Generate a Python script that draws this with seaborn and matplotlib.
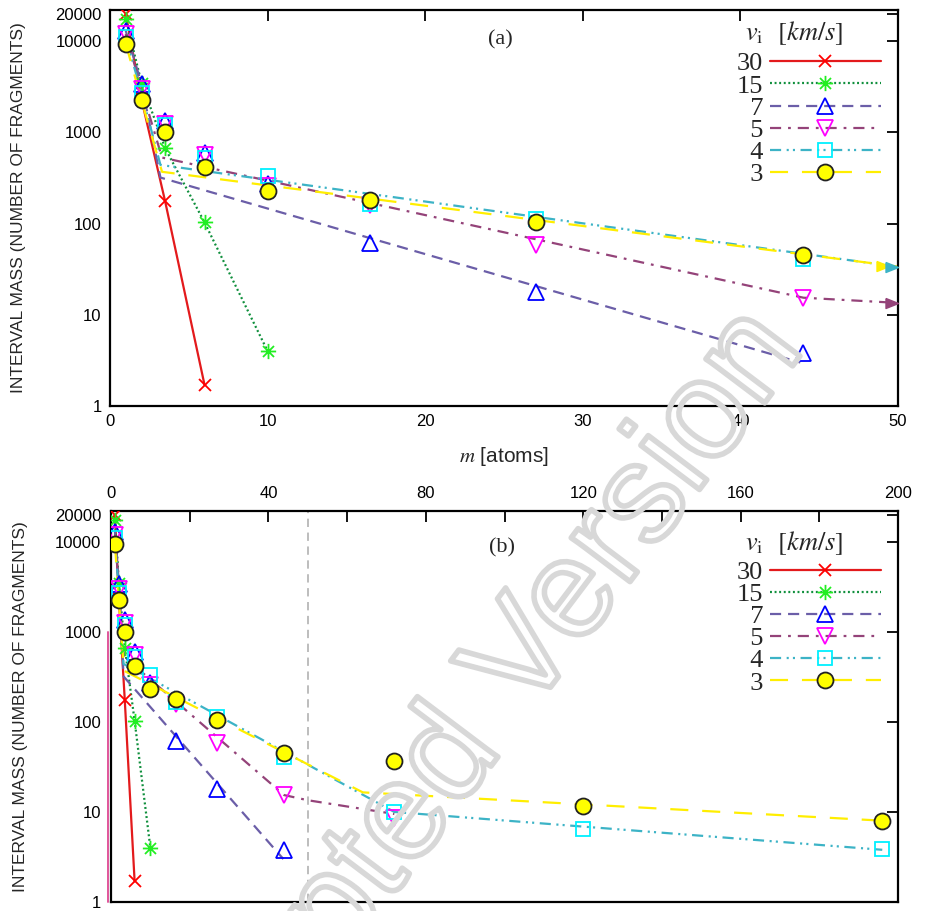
import numpy as np
import matplotlib
matplotlib.use("Agg")
import matplotlib.pyplot as plt
import matplotlib.patheffects as pe
import matplotlib.ticker as mticker
import matplotlib.transforms as mtrans
from matplotlib.lines import Line2D
from matplotlib.path import Path
import seaborn as sns

# ---- data --------------------------------------------------------------
speeds = ["30", "15", "7", "5", "4", "3"]

# histogram points (markers): bin centre m, interval mass
m30 = [1, 2, 3.5, 6]
v30 = [20000, 2300, 175, 1.7]
m15 = [1, 2, 3.5, 6, 10]
v15 = [17500, 3500, 670, 103, 4.0]
m7 = [1, 2, 3.5, 6, 10, 16.5, 27, 44]
v7 = [13000, 3400, 1350, 600, 270, 61, 18, 3.8]
m5 = [1, 2, 3.5, 6, 10, 16.5, 27, 44, 72]
v5 = [12000, 3000, 1250, 560, 260, 160, 59, 15.4, 8.5]
m4 = [1, 2, 3.5, 6, 10, 16.5, 27, 44, 72, 120, 196]
v4 = [11000, 2700, 1200, 520, 330, 165, 112, 41, 10, 6.5, 3.9]
m3 = [1, 2, 3.5, 6, 10, 16.5, 27, 44, 72, 120, 196]
v3 = [9400, 2250, 1000, 415, 230, 180, 104, 45, 37, 11.7, 8.0]

# fitted curves (lines)
lm30 = [1, 2, 3.5, 6]
lv30 = [20000, 2300, 175, 1.7]
lm15 = [1, 2, 3.5, 6, 10]
lv15 = [17500, 3500, 670, 103, 4.0]
lm7 = [1, 2, 3.2, 43.8]
lv7 = [13000, 3400, 320, 3.0]
lm5 = [1, 2, 3.3, 44, 50, 72]
lv5 = [12000, 3000, 530, 15.4, 13.5, 9.5]
lm4 = [1, 2, 3.2, 72, 196]
lv4 = [11000, 2700, 440, 10, 3.8]
lm3 = [1, 2, 3.3, 64, 196]
lv3 = [9400, 2250, 370, 16.5, 8.0]

# stray magenta stroke left of panel (b)
stray_m = [-0.8, -0.8]
stray_v = [1, 1000]

yticks = [1, 10, 100, 1000, 10000, 20000]

# ---- style ---------------------------------------------------------------
sns.set_theme(style="white")
plt.rcParams["font.family"] = ["Liberation Sans", "DejaVu Sans"]
plt.rcParams["mathtext.fontset"] = "stix"
plt.rcParams["lines.scale_dashes"] = False

# gnuplot style asterisk (+ and x overlaid)
M, L = Path.MOVETO, Path.LINETO
asterisk = Path([(-1, 0), (1, 0), (0, -1), (0, 1),
                 (-0.72, -0.72), (0.72, 0.72), (-0.72, 0.72), (0.72, -0.72)],
                [M, L, M, L, M, L, M, L])
arrow_marker = Path([(-2.0, 0.8), (0.0, 0.0), (-2.0, -0.8), (-2.0, 0.8)])

series = [
    # marker data, line data, line colour, line style, marker, marker face, marker edge, ms
    (m30, v30, lm30, lv30, "#e31a1c", "-", "x", "#ff0000", "#ff0000", 9),
    (m15, v15, lm15, lv15, "#0f8f3c", (0, (1.4, 1.9)), asterisk, "none", "#22ee22", 11),
    (m7, v7, lm7, lv7, "#6b5ea8", (0, (8, 5)), "^", "none", "#0000ff", 11),
    (m5, v5, lm5, lv5, "#944379", (0, (8, 5, 2, 5)), "v", "none", "#ff00ff", 11),
    (m4, v4, lm4, lv4, "#3cb3c6", (0, (8, 4, 1.5, 3, 1.5, 4)), "s", "none", "#00f0ff", 9.5),
    (m3, v3, lm3, lv3, "#ffee00", (0, (13, 10)), "o", "#ffff00", "#222222", 11.5),
]

fig = plt.figure(figsize=(9.25, 9.11), dpi=100)
ax_a = fig.add_axes([110 / 925, 1 - 406 / 911, 788 / 925, 396 / 911])
ax_b = fig.add_axes([111 / 925, 1 - 902 / 911, 787 / 925, 391 / 911])

serif = ["Liberation Serif", "DejaVu Serif"]
fsp = "\u2007"  # figure space to right-align the legend numbers


def draw_panel(ax, xmax, leg_top, title_y):
    ax.set_yscale("log")
    for mk_m, mk_v, ln_m, ln_v, lc, ls, mk, mfc, mec, ms in series:
        sns.lineplot(x=ln_m, y=ln_v, ax=ax, color=lc, linestyle=ls, lw=1.6,
                     sort=False, estimator=None, zorder=2)
        sns.lineplot(x=mk_m, y=mk_v, ax=ax, color=mec, linestyle="none",
                     marker=mk, markersize=ms, markerfacecolor=mfc,
                     markeredgecolor=mec, markeredgewidth=1.3,
                     sort=False, estimator=None, zorder=3)
    ax.set_xlim(0, xmax)
    ax.set_ylim(1, 22000)
    ax.yaxis.set_major_locator(mticker.FixedLocator(yticks))
    ax.yaxis.set_minor_locator(mticker.NullLocator())
    ax.yaxis.set_major_formatter(mticker.FuncFormatter(lambda v, p: f"{v:g}"))
    ax.tick_params(which="both", direction="in", top=True, right=True,
                   length=8, width=1.3, labelsize=12, pad=6, colors="black")
    for s in ax.spines.values():
        s.set_linewidth(1.6)
        s.set_color("black")
    ax.set_ylabel("INTERVAL MASS (NUMBER OF FRAGMENTS)", fontsize=12.5)
    ax.yaxis.set_label_coords(-0.106, 0.5)

    handles = [Line2D([], [], color=s[4], linestyle=s[5], lw=1.6, marker=s[6],
                      markersize=s[9], markerfacecolor=s[7], markeredgecolor=s[8],
                      markeredgewidth=1.3) for s in series]
    labels = [sp if len(sp) == 2 else fsp + sp for sp in speeds]
    ax.legend(handles, labels, loc="upper right", bbox_to_anchor=(0.978, leg_top),
              frameon=False, markerfirst=False, numpoints=1, borderpad=0,
              borderaxespad=0, handlelength=4.2, handletextpad=0.25,
              labelspacing=-0.05, prop={"family": serif, "size": 19})
    ax.text(0.806, title_y, r"$v_{\mathrm{i}}$  $[km/s]$", transform=ax.transAxes,
            ha="left", va="center", fontsize=19)


draw_panel(ax_a, 50, 0.894, 0.942)
draw_panel(ax_b, 200, 0.874, 0.918)

# panel (a) axes
ax_a.xaxis.set_major_locator(mticker.MultipleLocator(10))
ax_a.set_xlabel(r"$m$ [atoms]", fontsize=15, labelpad=11)
ax_a.text(0.495, 0.925, "(a)", transform=ax_a.transAxes, ha="center", va="center",
          family=serif, fontsize=16)

# arrows where the curves leave panel (a)
x_end = 50
for mk_m, mk_v, ln_m, ln_v, lc, *_r in series:
    if ln_m[-1] > x_end:
        y_end = 10 ** np.interp(x_end, ln_m, np.log10(ln_v))
        tr = ax_a.transData
        z = 5
        if lc == "#ffee00":
            tr = mtrans.offset_copy(ax_a.transData, fig=fig, x=-9, y=1, units="dots")
            z = 4
        ax_a.plot([x_end], [y_end], marker=arrow_marker, markersize=18, color=lc,
                  linestyle="none", clip_on=False, zorder=z, transform=tr)

# panel (b) axes
ax_b.xaxis.set_major_locator(mticker.MultipleLocator(40))
ax_b.xaxis.set_minor_locator(mticker.MultipleLocator(20))
ax_b.tick_params(which="both", labelbottom=False, labeltop=True, length=8, pad=7)
ax_b.set_xlabel("")
ax_b.axvline(x_end, color="#bdbdbd", linestyle=(0, (6, 4)), lw=1.4, zorder=1)
ax_b.plot(stray_m, stray_v, color="#e0559a", lw=1.4, clip_on=False, zorder=1)
ax_b.text(0.497, 0.905, "(b)", transform=ax_b.transAxes, ha="center", va="center",
          family=serif, fontsize=16)

# watermark
fig.text(0.488, 0.167, "Accepted Version", fontsize=100, family="Liberation Sans",
         rotation=53, rotation_mode="anchor", ha="center", va="center",
         color="none", zorder=20,
         path_effects=[pe.Stroke(linewidth=4, foreground="#d8d8d8")])

fig.savefig("out.png", dpi=100)
